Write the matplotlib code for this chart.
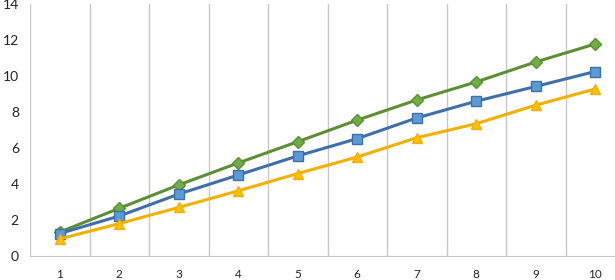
import numpy as np
import matplotlib
matplotlib.use("Agg")
import matplotlib.pyplot as plt

plt.rcParams['font.family'] = ['Lato', 'DejaVu Sans']

# data
x_vals = [1, 2, 3, 4, 5, 6, 7, 8, 9, 10]
green_vals = [1.33, 2.65, 3.95, 5.17, 6.35, 7.55, 8.67, 9.67, 10.78, 11.78]
blue_vals = [1.25, 2.22, 3.44, 4.5, 5.56, 6.52, 7.67, 8.6, 9.42, 10.25]
yellow_vals = [0.95, 1.8, 2.7, 3.62, 4.58, 5.5, 6.57, 7.35, 8.38, 9.28]

fig = plt.figure(figsize=(6.15, 2.8), dpi=100)
ax = fig.add_axes([30 / 615, 24 / 280, 595 / 615, 252 / 280])

ax.plot(x_vals, green_vals, color='#5B8F32', lw=2.2, marker='D', ms=6,
        mfc='#70AD47', mec='#5B8F32', mew=1, zorder=3)
ax.plot(x_vals, blue_vals, color='#3F6FA8', lw=2.2, marker='s', ms=6.5,
        mfc='#5B9BD5', mec='#3F6FA8', mew=1, zorder=3)
ax.plot(x_vals, yellow_vals, color='#F2B000', lw=2.2, marker='^', ms=7,
        mfc='#FFC000', mec='#F2B000', mew=1, zorder=3)

ax.set_xlim(0.5, 10.5)
ax.set_ylim(0, 14)
ax.set_xticks(x_vals)
ax.set_yticks(np.arange(0, 15, 2))
ax.set_xticks(np.arange(0.5, 10.6, 1), minor=True)
ax.grid(which='minor', axis='x', color='#C8C8C8', lw=1)
ax.tick_params(which='both', length=0)
ax.tick_params(axis='x', labelsize=8.5, pad=9, colors='#222222')
ax.tick_params(axis='y', labelsize=10, pad=8, colors='#222222')

for side in ['top', 'right', 'left']:
    ax.spines[side].set_visible(False)
ax.spines['bottom'].set_color('#C8C8C8')

fig.savefig('out.png', dpi=100)
